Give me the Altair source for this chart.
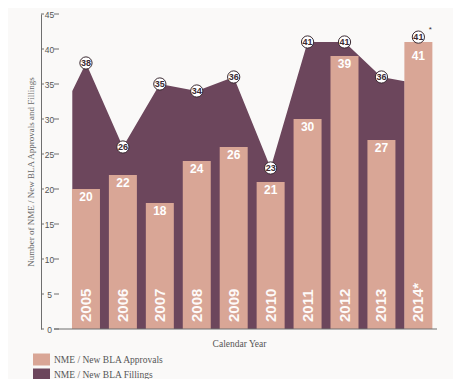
import altair as alt
import pandas as pd

# ---- data ----
years = [2005, 2006, 2007, 2008, 2009, 2010, 2011, 2012, 2013, 2014]
year_labels = ["2005", "2006", "2007", "2008", "2009", "2010", "2011", "2012", "2013", "2014*"]
approvals = [20, 22, 18, 24, 26, 21, 30, 39, 27, 41]
filings = [38, 26, 35, 34, 36, 23, 41, 41, 36, 41]
filing_notes = ["", "", "", "", "", "", "", "", "", "*"]

# filled filings area (runs from the left edge of the 2005 bar to the left edge of the 2014 bar)
area_years = [2004.63, 2005, 2006, 2007, 2008, 2009, 2010, 2011, 2012, 2013, 2013.63]
area_values = [34, 38, 26, 35, 34, 36, 23, 41, 41, 36, 35.4]

y_ticks = [0, 5, 10, 15, 20, 25, 30, 35, 40, 45]

series_names = ["NME / New BLA Approvals", "NME / New BLA Fillings"]
PINK = "#d9a696"
PLUM = "#6c465c"
DARK = "#3a2a32"
GREY = "#6f6f6f"

bars_df = pd.DataFrame({"year": years, "value": approvals, "label": year_labels,
                        "series": series_names[0]})
fil_df = pd.DataFrame({"year": years, "value": filings, "note": filing_notes})
area_df = pd.DataFrame({"year": area_years, "value": area_values, "series": series_names[1]})
ticks_df = pd.DataFrame({"t": y_ticks})
base_df = pd.DataFrame({"t": [0]})

W, H = 396, 315

xscale = alt.Scale(domain=[2003.918, 2014.369], nice=False, zero=False)
yscale = alt.Scale(domain=[0, 45], nice=False, zero=True)

xaxis = alt.Axis(labels=False, ticks=False, domain=False, grid=False,
                 title="Calendar Year", titleFont="Liberation Serif", titleFontSize=9.5,
                 titleFontWeight="normal", titleColor="#555555", titlePadding=9)
yaxis = alt.Axis(values=y_ticks, grid=False, domain=True, domainColor=GREY, domainWidth=1,
                 ticks=False, tickSize=0, labelAlign="center", labelBaseline="middle",
                 labelPadding=-8, labelFlush=False, labelOverlap=False,
                 labelFont="Liberation Sans", labelFontSize=8.5, labelColor="#555555",
                 title="Number of NME / New BLA Approvals and Fillings",
                 titleFont="Liberation Serif", titleFontSize=9, titleFontWeight="normal",
                 titleColor="#666666", titleAngle=270, titleX=-11, titleY=H / 2,
                 titleAlign="center", titleBaseline="middle")


def X(field):
    return alt.X(field, type="quantitative", scale=xscale, axis=xaxis)


def Y(field):
    return alt.Y(field, type="quantitative", scale=yscale, axis=yaxis)


color = alt.Color("series:N",
                  scale=alt.Scale(domain=series_names, range=[PINK, PLUM]),
                  legend=alt.Legend(orient="none", legendX=-8, legendY=337, title=None,
                                    symbolType="M-1,-0.706H1V0.706H-1Z", symbolSize=289,
                                    symbolStrokeWidth=0, symbolOpacity=1,
                                    labelFont="Liberation Serif", labelFontSize=9.5,
                                    labelColor="#555555", labelOffset=4, rowPadding=-2))

area = alt.Chart(area_df).mark_area(interpolate="linear", opacity=1).encode(
    x=X("year"), y=Y("value"), color=color)

bars = alt.Chart(bars_df).mark_bar(size=28, opacity=1).encode(
    x=X("year"), y=Y("value"), color=color)

# value labels inside the bar tops; the last one sits lower, under its raised marker
bar_vals = alt.Chart(bars_df).mark_text(
    dy=8, baseline="middle", align="center", font="Liberation Sans",
    fontSize=12, fontWeight="bold", color="white").encode(
    x=X("year"), y=Y("value"), text="value:Q"
).transform_filter("datum.year != 2014")
bar_vals_last = alt.Chart(bars_df).mark_text(
    dy=14, baseline="middle", align="center", font="Liberation Sans",
    fontSize=12, fontWeight="bold", color="white").encode(
    x=X("year"), y=Y("value"), text="value:Q"
).transform_filter("datum.year == 2014")

year_text = alt.Chart(bars_df).transform_calculate(zero="0").mark_text(
    angle=270, align="left", baseline="middle", dx=7, font="Liberation Sans",
    fontSize=15, fontWeight="bold", color="white", opacity=0.95).encode(
    x=X("year"), y=Y("zero"), text="label:N")

tick_right = alt.Chart(ticks_df).mark_rule(color=GREY, strokeWidth=1).encode(
    y=Y("t"), x=alt.value(13), x2=alt.value(18))
tick_left = alt.Chart(ticks_df).mark_rule(color=GREY, strokeWidth=1).encode(
    y=Y("t"), x=alt.value(0), x2=alt.value(3))
baseline = alt.Chart(base_df).mark_rule(color=GREY, strokeWidth=1).encode(
    y=Y("t"), x=alt.value(13), x2=alt.value(W))

# the 2014 marker is lifted slightly so it sits on top of the 2014 bar
fil_base = alt.Chart(fil_df).transform_calculate(
    pos="datum.year == 2014 ? datum.value + 0.7 : datum.value"
)
circles = fil_base.mark_circle(
    size=150, color="white", opacity=1, stroke=DARK, strokeWidth=1).encode(
    x=X("year"), y=Y("pos"))
circle_text = fil_base.mark_text(
    baseline="middle", align="center", font="Liberation Sans", fontSize=9,
    fontWeight="bold", color=DARK).encode(
    x=X("year"), y=Y("pos"), text="value:Q")
notes = fil_base.mark_text(
    baseline="middle", align="center", dx=12, dy=-7, font="Liberation Sans",
    fontSize=8, color=DARK).encode(
    x=X("year"), y=Y("pos"), text="note:N")

chart = alt.layer(
    area, bars, tick_left, tick_right, baseline, bar_vals, bar_vals_last, year_text,
    circles, circle_text, notes
).properties(
    width=W, height=H,
    autosize=alt.AutoSizeParams(type="none"),
    padding={"left": 33, "top": 6, "right": 16, "bottom": 50},
    background="#faf9f8",
).configure_view(stroke=None)

chart.save("out.html", embed_options={"renderer": "svg", "actions": False})
